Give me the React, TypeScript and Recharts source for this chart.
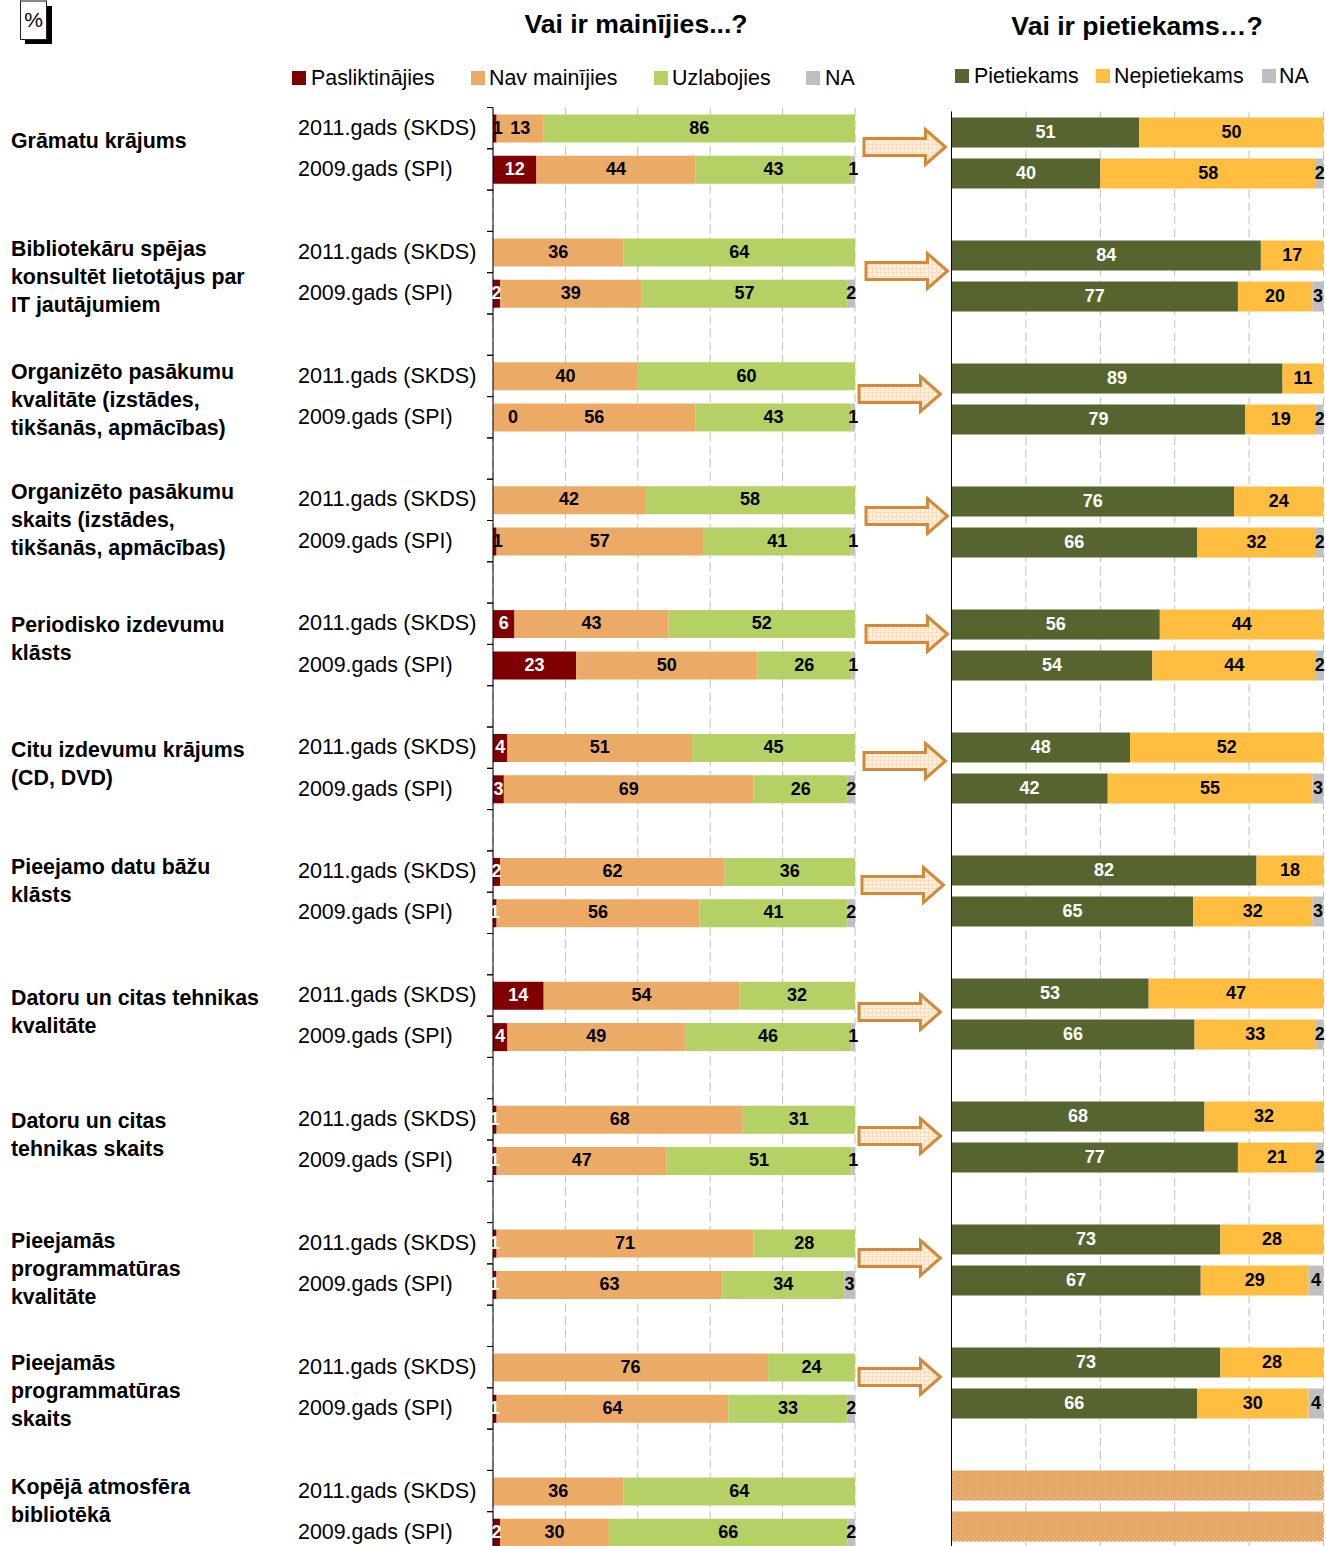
import React from 'react';
import { Bar, BarChart, CartesianGrid, LabelList, XAxis, YAxis } from 'recharts';

const FONT = '"Liberation Sans", Arial, sans-serif';

const years = ['2011.gads (SKDS)', '2009.gads (SPI)'];

const groupLabels = [
  ['Grāmatu krājums'],
  ['Bibliotekāru spējas', 'konsultēt lietotājus par', 'IT jautājumiem'],
  ['Organizēto pasākumu', 'kvalitāte (izstādes,', 'tikšanās, apmācības)'],
  ['Organizēto pasākumu', 'skaits (izstādes,', 'tikšanās, apmācības)'],
  ['Periodisko izdevumu', 'klāsts'],
  ['Citu izdevumu krājums', '(CD, DVD)'],
  ['Pieejamo datu bāžu', 'klāsts'],
  ['Datoru un citas tehnikas', 'kvalitāte'],
  ['Datoru un citas', 'tehnikas skaits'],
  ['Pieejamās', 'programmatūras', 'kvalitāte'],
  ['Pieejamās', 'programmatūras', 'skaits'],
  ['Kopējā atmosfēra', 'bibliotēkā'],
];

// two values per group: 2011, 2009. null = no label / no segment
const worse = [1, 12, null, 2, null, 0, null, 1, 6, 23, 4, 3, 2, 1, 14, 4, 1, 1, 1, 1, null, 1, null, 2];
const same = [13, 44, 36, 39, 40, 56, 42, 57, 43, 50, 51, 69, 62, 56, 54, 49, 68, 47, 71, 63, 76, 64, 36, 30];
const better = [86, 43, 64, 57, 60, 43, 58, 41, 52, 26, 45, 26, 36, 41, 32, 46, 31, 51, 28, 34, 24, 33, 64, 66];
const naLeft = [null, 1, null, 2, null, 1, null, 1, null, 1, null, 2, null, 2, null, 1, null, 1, null, 3, null, 2, null, 2];

const enough = [51, 40, 84, 77, 89, 79, 76, 66, 56, 54, 48, 42, 82, 65, 53, 66, 68, 77, 73, 67, 73, 66, null, null];
const notEnough = [50, 58, 17, 20, 11, 19, 24, 32, 44, 44, 52, 55, 18, 32, 47, 33, 32, 21, 28, 29, 28, 30, null, null];
const naRight = [null, 2, null, 3, null, 2, null, 2, null, 2, null, 3, null, 3, null, 2, null, 2, null, 4, null, 4, null, null];
const noData = [null, null, null, null, null, null, null, null, null, null, null, null, null, null, null, null, null, null, null, null, null, null, 100, 100];

const legendLeft = ['Pasliktinājies', 'Nav mainījies', 'Uzlabojies', 'NA'];
const legendRight = ['Pietiekams', 'Nepietiekams', 'NA'];

const RED = '#7F0000';
const ORANGE = '#EBAB67';
const GREEN = '#B5D165';
const GREY = '#BFBFBF';
const OLIVE = '#56652F';
const GOLD = '#FFBE40';

// three rows per group (2011, 2009, empty), the last empty row is dropped
const buildRows = (series: Record<string, (number | null)[]>) => {
  const rows: any[] = [];
  groupLabels.forEach((_, g) => {
    years.forEach((year, y) => {
      const row: any = { year };
      Object.keys(series).forEach((k) => {
        row[k] = series[k][g * 2 + y];
      });
      rows.push(row);
    });
    if (g < groupLabels.length - 1) rows.push({ year: '' });
  });
  return rows;
};

const leftRows = buildRows({ worse, same, better, na: naLeft });
const rightRows = buildRows({ enough, notEnough, na: naRight, noData });

// layout
const groupLabelTops = [127, 235, 358, 478, 611, 736, 853, 984, 1107, 1227, 1349, 1473];
const arrows = [
  [864, 945.5, 147],
  [866, 947.5, 271],
  [859, 940.5, 394],
  [866, 947.5, 516],
  [866, 947.5, 634],
  [864, 945.5, 761],
  [862, 943.5, 885],
  [859, 940.5, 1012],
  [859, 940.5, 1136],
  [859, 940.5, 1258],
  [859, 940.5, 1377],
];
const legendLeftSquares = [292, 471, 654, 806];
const legendLeftTexts = [311, 489, 672, 825];
const legendRightSquares = [955, 1096, 1262];
const legendRightTexts = [974, 1114, 1279];
// these "1" labels are black and sit just right of the red segment.
// index counts only the red segments that are really drawn
const darkWorseLabels = [0, 3];

const rowTick = (props: any) => {
  const { y, payload } = props;
  const step = 41.3;
  const size = String(payload.value).startsWith('2011') ? 21.6 : 21.4;
  return (
    <g>
      <line x1={487} x2={493} y1={y - step / 2} y2={y - step / 2} stroke="#000" />
      <line x1={487} x2={493} y1={y + step / 2} y2={y + step / 2} stroke="#000" />
      <text x={298} y={y + 6.6} fontSize={size} fill="#000" fontFamily={FONT}>
        {payload.value}
      </text>
    </g>
  );
};

const labelText = (cx: number, y: number, height: number, color: string, value: any) => (
  <text
    x={cx}
    y={y + height / 2 + 5.2}
    textAnchor="middle"
    fontSize={18}
    fontWeight="bold"
    fill={color}
    fontFamily={FONT}
  >
    {value}
  </text>
);

const barLabel = (color: string) => (props: any) => {
  const { x, y, width, height, value } = props;
  if (value === null || value === undefined) return null;
  return labelText(x + width / 2, y, height, color, value);
};

const worseLabel = (props: any) => {
  const { x, y, width, height, value, index } = props;
  if (value === null || value === undefined || value === 0) return null;
  if (darkWorseLabels.includes(index)) return labelText(x + width / 2 + 3, y, height, '#000', value);
  return labelText(x + width / 2, y, height, '#fff', value);
};

// the red segment of a 0 has no width and draws nothing, so its label hangs off the orange bar
const zeroLabel = (props: any) => {
  const { x, y, height, value } = props;
  if (value !== 0) return null;
  return labelText(x + 20, y, height, '#000', value);
};

const LegendRow = ({ items, colors, squares, texts, top }: any) => (
  <>
    {items.map((name: string, i: number) => (
      <div key={name + i}>
        <div style={{ position: 'absolute', left: squares[i], top: top + 7, width: 14, height: 14, background: colors[i] }} />
        <div style={{ position: 'absolute', left: texts[i], top, fontSize: 21.4, lineHeight: '28px', fontFamily: FONT, whiteSpace: 'nowrap' }}>
          {name}
        </div>
      </div>
    ))}
  </>
);

const Title = ({ text, cx, cy }: any) => (
  <div
    style={{
      position: 'absolute', left: cx - 200, width: 400, top: cy - 16, textAlign: 'center',
      fontSize: 26.6, lineHeight: '32px', fontWeight: 'bold', fontFamily: FONT, whiteSpace: 'nowrap',
    }}
  >
    {text}
  </div>
);

export default function App() {
  return (
    <div style={{ position: 'absolute', left: 0, top: 0, width: 1326, height: 1546, overflow: 'hidden', background: '#fff' }}>
      {/* % box */}
      <div style={{ position: 'absolute', left: 25, top: 6, width: 27, height: 38, background: '#000' }} />
      <div
        style={{
          position: 'absolute', left: 20, top: 0, width: 25, height: 37, background: '#fff', border: '1px solid #222',
          borderTop: '2px solid #888', textAlign: 'center', fontFamily: FONT, fontSize: 21, lineHeight: '36px',
        }}
      >
        %
      </div>

      <Title text="Vai ir mainījies...?" cx={636} cy={24} />
      <Title text="Vai ir pietiekams…?" cx={1137} cy={26} />
      <LegendRow items={legendLeft} colors={[RED, ORANGE, GREEN, GREY]} squares={legendLeftSquares} texts={legendLeftTexts} top={64} />
      <LegendRow items={legendRight} colors={[OLIVE, GOLD, GREY]} squares={legendRightSquares} texts={legendRightTexts} top={62} />

      {groupLabels.map((lines, g) => (
        <div
          key={g}
          style={{
            position: 'absolute', left: 11, top: groupLabelTops[g], fontSize: 21.35, lineHeight: '28px',
            fontWeight: 'bold', fontFamily: FONT, whiteSpace: 'nowrap',
          }}
        >
          {lines.map((l, i) => (
            <div key={i}>{l}</div>
          ))}
        </div>
      ))}

      <div style={{ position: 'absolute', left: 0, top: 0 }}>
        <BarChart
          width={860}
          height={1553}
          data={leftRows}
          layout="vertical"
          stackOffset="expand"
          barSize={28}
          margin={{ top: 107.5, right: 5, bottom: 0, left: 298 }}
        >
          <CartesianGrid horizontal={false} stroke="#BFBFBF" strokeDasharray="9 4" />
          <XAxis type="number" domain={[0, 1]} ticks={[0, 0.2, 0.4, 0.6, 0.8, 1]} hide />
          <YAxis type="category" dataKey="year" width={195} interval={0} tick={rowTick} tickLine={false} axisLine={{ stroke: '#000' }} />
          <Bar dataKey="worse" stackId="a" fill={RED} isAnimationActive={false}>
            <LabelList dataKey="worse" content={worseLabel} />
          </Bar>
          <Bar dataKey="same" stackId="a" fill={ORANGE} isAnimationActive={false}>
            <LabelList dataKey="same" content={barLabel('#000')} />
            <LabelList dataKey="worse" content={zeroLabel} />
          </Bar>
          <Bar dataKey="better" stackId="a" fill={GREEN} isAnimationActive={false}>
            <LabelList dataKey="better" content={barLabel('#000')} />
          </Bar>
          <Bar dataKey="na" stackId="a" fill={GREY} isAnimationActive={false}>
            <LabelList dataKey="na" content={barLabel('#000')} />
          </Bar>
        </BarChart>
      </div>

      <div style={{ position: 'absolute', left: 940, top: 0 }}>
        <BarChart
          width={386}
          height={1546.5}
          data={rightRows}
          layout="vertical"
          stackOffset="expand"
          barSize={30}
          margin={{ top: 111.5, right: 2.5, bottom: 0, left: 10.5 }}
        >
          <defs>
            <pattern id="dots" width="4" height="4" patternUnits="userSpaceOnUse">
              <rect width="4" height="4" fill="#E9A35B" />
              <rect width="1" height="1" fill="#F4D0A8" />
              <rect x="2" y="2" width="1" height="1" fill="#F4D0A8" />
            </pattern>
          </defs>
          <CartesianGrid horizontal={false} stroke="#BFBFBF" strokeDasharray="9 4" />
          <XAxis type="number" domain={[0, 1]} ticks={[0, 0.2, 0.4, 0.6, 0.8, 1]} hide />
          <YAxis type="category" dataKey="year" width={1} interval={0} tick={false} tickLine={false} axisLine={{ stroke: '#000' }} />
          <Bar dataKey="enough" stackId="b" fill={OLIVE} isAnimationActive={false}>
            <LabelList dataKey="enough" content={barLabel('#fff')} />
          </Bar>
          <Bar dataKey="notEnough" stackId="b" fill={GOLD} isAnimationActive={false}>
            <LabelList dataKey="notEnough" content={barLabel('#000')} />
          </Bar>
          <Bar dataKey="na" stackId="b" fill={GREY} isAnimationActive={false}>
            <LabelList dataKey="na" content={barLabel('#000')} />
          </Bar>
          <Bar dataKey="noData" stackId="b" fill="url(#dots)" isAnimationActive={false} />
        </BarChart>
      </div>

      <svg width={1326} height={1546} style={{ position: 'absolute', left: 0, top: 0, pointerEvents: 'none' }}>
        <defs>
          <pattern id="arrowFill" width="4" height="4" patternUnits="userSpaceOnUse">
            <rect width="4" height="4" fill="#FEF1E3" />
            <rect width="4" height="1" fill="#FBDDBE" />
            <rect width="1" height="4" fill="#FBDDBE" />
          </pattern>
        </defs>
        {arrows.map(([x0, x1, y], i) => (
          <polygon
            key={i}
            points={[
              [x0, y - 8.5], [x1 - 20, y - 8.5], [x1 - 20, y - 17.5], [x1, y],
              [x1 - 20, y + 17.5], [x1 - 20, y + 8.5], [x0, y + 8.5],
            ].map((p) => p.join(',')).join(' ')}
            fill="url(#arrowFill)"
            stroke="#D3893A"
            strokeWidth={3}
          />
        ))}
      </svg>
    </div>
  );
}
